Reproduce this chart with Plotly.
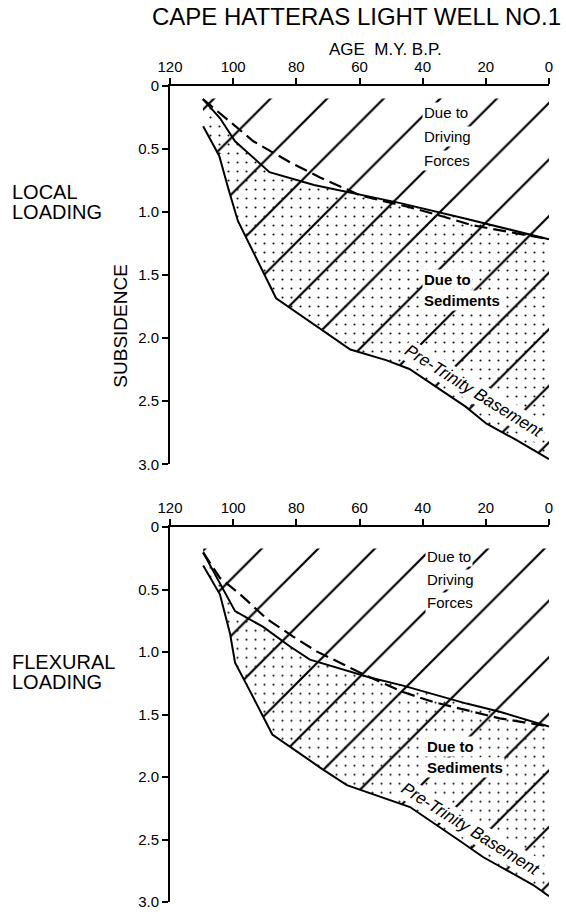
import plotly.graph_objects as go

# ---------------- data ----------------
age_ticks = [120, 100, 80, 60, 40, 20, 0]
age_tick_labels = ["120", "100", "80", "60", "40", "20", "0"]
depth_ticks = [0, 0.5, 1.0, 1.5, 2.0, 2.5, 3.0]
depth_tick_labels = ["0", "0.5", "1.0", "1.5", "2.0", "2.5", "3.0"]

# LOCAL LOADING panel
local_base_age = [109.5, 104.4, 101.5, 98.5, 86.4, 77.8, 69.2, 62.9, 51.6, 44.2, 26.3, 19.9, 10.4, 0]
local_base_depth = [0.32, 0.555, 0.817, 1.07, 1.683, 1.832, 1.975, 2.09, 2.174, 2.244, 2.545, 2.676, 2.807, 2.96]
local_top_age = [109.6, 104.2, 99.4, 88.5, 74.4, 59.5, 47.4, 26.3, 0]
local_top_depth = [0.104, 0.254, 0.438, 0.683, 0.785, 0.864, 0.927, 1.053, 1.215]
local_dash_age = [109.6, 93.6, 81.9, 72.5, 59.5, 44.2, 34.7, 24.2, 0]
local_dash_depth = [0.104, 0.438, 0.607, 0.725, 0.87, 0.961, 1.027, 1.105, 1.215]

# FLEXURAL LOADING panel
flex_base_age = [109.5, 104.2, 101.0, 99.4, 94.5, 87.6, 79.3, 71.9, 64.0, 54.1, 44.0, 28.3, 20.9, 5.1, 0]
flex_base_depth = [0.307, 0.537, 0.85, 1.085, 1.32, 1.66, 1.804, 1.934, 2.065, 2.151, 2.24, 2.51, 2.64, 2.862, 2.953]
flex_top_age = [109.5, 99.4, 90.5, 82.0, 75.7, 72.5, 56.7, 46.2, 26.1, 15.6, 0]
flex_top_depth = [0.202, 0.672, 0.798, 0.955, 1.06, 1.085, 1.203, 1.268, 1.412, 1.477, 1.595]
flex_dash_age = [109.5, 104.2, 97.8, 89.4, 81.0, 73.6, 57.7, 46.2, 36.7, 26.1, 15.6, 0]
flex_dash_depth = [0.202, 0.406, 0.537, 0.733, 0.876, 0.994, 1.19, 1.32, 1.399, 1.464, 1.53, 1.595]

# upper limit of the hatching in each panel (depth)
local_hatch_top = 0.10
flex_hatch_top = 0.17

FONT = "Liberation Sans"
W, H = 566, 917
ML, MR, MT, MB = 170, 17, 86, 7
PW, PH = W - ML - MR, H - MT - MB


def px(xp):
    return (xp - ML) / PW


def py(yp):
    return (H - MB - yp) / PH


top_dom = [py(468), 1.0]
bot_dom = [0.0, py(531.5)]

fig = go.Figure()

hatch = dict(shape="/", size=40, solidity=0.055, fgcolor="#000000",
             bgcolor="rgba(0,0,0,0)", fillmode="replace")
dots = dict(shape=".", size=9, solidity=0.045, fgcolor="#111111",
            bgcolor="rgba(0,0,0,0)", fillmode="replace")


def add_panel(xa, ya, base_age, base_depth, top_age, top_depth, dash_age, dash_depth, htop):
    # hatched area (driving forces + sediments)
    hx = [top_age[0], 0] + base_age[::-1] + [top_age[0]]
    hy = [htop, htop] + base_depth[::-1] + [htop]
    fig.add_trace(go.Scatter(x=hx, y=hy, xaxis=xa, yaxis=ya, mode="lines",
                             line=dict(width=0, color="rgba(0,0,0,0)"),
                             fill="toself", fillcolor="rgba(0,0,0,0)",
                             fillpattern=hatch, hoverinfo="skip", showlegend=False))
    # stippled sediment area
    sx = top_age + base_age[::-1]
    sy = top_depth + base_depth[::-1]
    fig.add_trace(go.Scatter(x=sx, y=sy, xaxis=xa, yaxis=ya, mode="lines",
                             line=dict(width=0, color="rgba(0,0,0,0)"),
                             fill="toself", fillcolor="rgba(0,0,0,0)",
                             fillpattern=dots, hoverinfo="skip", showlegend=False))
    fig.add_trace(go.Scatter(x=base_age, y=base_depth, xaxis=xa, yaxis=ya, mode="lines",
                             line=dict(color="black", width=2), showlegend=False))
    fig.add_trace(go.Scatter(x=top_age, y=top_depth, xaxis=xa, yaxis=ya, mode="lines",
                             line=dict(color="black", width=2), showlegend=False))
    fig.add_trace(go.Scatter(x=dash_age, y=dash_depth, xaxis=xa, yaxis=ya, mode="lines",
                             line=dict(color="black", width=2.2, dash="13px,6px"),
                             showlegend=False))


add_panel("x", "y", local_base_age, local_base_depth, local_top_age, local_top_depth,
          local_dash_age, local_dash_depth, local_hatch_top)
add_panel("x2", "y2", flex_base_age, flex_base_depth, flex_top_age, flex_top_depth,
          flex_dash_age, flex_dash_depth, flex_hatch_top)

xcommon = dict(range=[120, 0], side="top", tickvals=age_ticks, ticktext=age_tick_labels,
               ticks="outside", ticklen=6, tickwidth=1.5, tickcolor="black",
               showline=True, linewidth=2, linecolor="black", showgrid=False,
               zeroline=False, tickfont=dict(family=FONT, size=15, color="black"))
ycommon = dict(range=[3.0, 0], tickvals=depth_ticks, ticktext=depth_tick_labels,
               ticks="outside", ticklen=6, tickwidth=1.5, tickcolor="black",
               showline=True, linewidth=2, linecolor="black", showgrid=False,
               zeroline=False, tickfont=dict(family=FONT, size=15, color="black"))

fig.update_layout(
    width=W, height=H,
    margin=dict(l=ML, r=MR, t=MT, b=MB, pad=0),
    paper_bgcolor="white", plot_bgcolor="white",
    font=dict(family=FONT, color="black"),
    showlegend=False,
    xaxis=dict(xcommon, domain=[0, 1], anchor="y"),
    yaxis=dict(ycommon, domain=top_dom, anchor="x"),
    xaxis2=dict(xcommon, domain=[0, 1], anchor="y2"),
    yaxis2=dict(ycommon, domain=bot_dom, anchor="x2"),
)

ann = []


def paper_text(text, xp, yp, size, xanchor="center", angle=0):
    ann.append(dict(text=text, x=px(xp), y=py(yp), xref="paper", yref="paper",
                    xanchor=xanchor, yanchor="middle", showarrow=False, textangle=angle,
                    font=dict(family=FONT, size=size, color="black")))


paper_text("CAPE HATTERAS LIGHT WELL NO.1", 563, 16, 24, xanchor="right")
paper_text("AGE  M.Y. B.P.", 385, 49, 17)
paper_text("LOCAL", 10, 193, 20, xanchor="left")
paper_text("LOADING", 10, 213, 20, xanchor="left")
paper_text("SUBSIDENCE", 121, 328, 19, angle=-90)
paper_text("FLEXURAL", 10, 668, 20, xanchor="left")
paper_text("LOADING", 10, 688, 20, xanchor="left")


def data_text(text, xa, ya, x, y, size=15, xanchor="left", angle=0, style="normal", weight="normal"):
    ann.append(dict(text=text, x=x, y=y, xref=xa, yref=ya, xanchor=xanchor,
                    yanchor="middle", showarrow=False, textangle=angle,
                    bgcolor="white", borderpad=1,
                    font=dict(family=FONT, size=size, color="black", style=style, weight=weight)))


# top panel labels
data_text("Due to", "x", "y", 40.1, 0.212)
data_text("Driving", "x", "y", 40.1, 0.398)
data_text("Forces", "x", "y", 40.1, 0.589)
data_text("Due to", "x", "y", 40.1, 1.536, weight="bold")
data_text("Sediments", "x", "y", 40.1, 1.698, weight="bold")
data_text("Pre-Trinity Basement", "x", "y", 23.6, 2.425, size=17, xanchor="center",
          angle=32, style="italic")
# bottom panel labels
data_text("Due to", "x2", "y2", 39.4, 0.237)
data_text("Driving", "x2", "y2", 39.4, 0.42)
data_text("Forces", "x2", "y2", 39.4, 0.603)
data_text("Due to", "x2", "y2", 39.4, 1.756, weight="bold")
data_text("Sediments", "x2", "y2", 39.4, 1.921, weight="bold")
data_text("Pre-Trinity Basement", "x2", "y2", 24.6, 2.416, size=17, xanchor="center",
          angle=32, style="italic")

fig.update_layout(annotations=ann)
fig.write_html("out.html", config={"displayModeBar": False},
               post_script="document.body.style.margin='0px';document.body.style.overflow='hidden';")
